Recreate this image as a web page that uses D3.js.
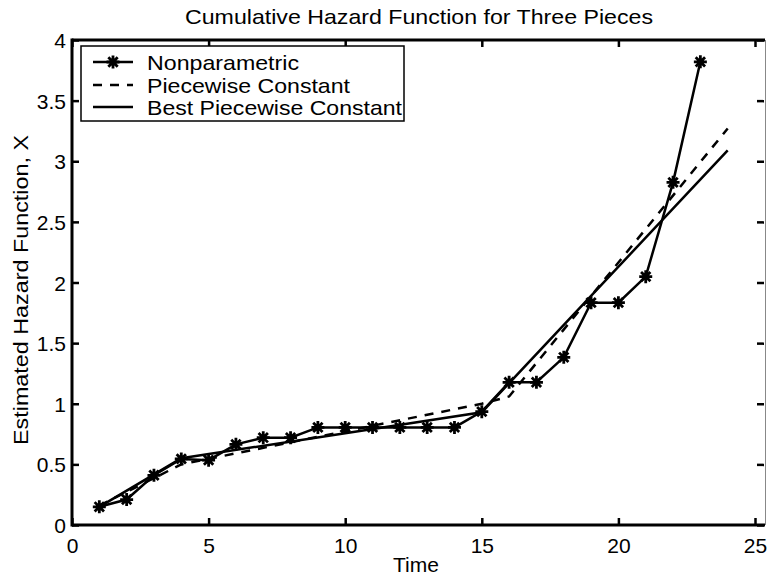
<!DOCTYPE html>
<html>
<head>
<meta charset="utf-8">
<script src="https://cdn.jsdelivr.net/npm/d3@7"></script>
<style>
  body { margin: 0; background: #fff; }
  svg text { font-family: "Liberation Sans", Arial, sans-serif; fill: #000; }
  .tick line { stroke: #000; stroke-width: 2.5; }
</style>
</head>
<body>
<svg id="chart" width="767" height="575"></svg>
<script>
// data
const times = [1, 2, 3, 4, 5, 6, 7, 8, 9, 10, 11, 12, 13, 14, 15, 16, 17, 18, 19, 20, 21, 22, 23];
const nonparametric = [0.15, 0.21, 0.41, 0.545, 0.535, 0.665, 0.72, 0.72, 0.805, 0.805, 0.805, 0.805,
    0.805, 0.805, 0.935, 1.177, 1.177, 1.383, 1.834, 1.834, 2.048, 2.826, 3.82];
const pieceTimes = [1, 4, 15, 16, 24];
const pieceValues = [0.16, 0.5, 1.0, 1.06, 3.27];
const bestTimes = [1, 4, 15, 24];
const bestValues = [0.15, 0.55, 0.93, 3.09];
const xTicks = [0, 5, 10, 15, 20, 25];
const yTicks = [0, 0.5, 1, 1.5, 2, 2.5, 3, 3.5, 4];
const legendLabels = ['Nonparametric', 'Piecewise Constant', 'Best Piecewise Constant'];

const chartProperties = {
    left: 72, right: 755, frameRight: 764, top: 40, bottom: 525
};

function zip(xs, ys) {
    return xs.map((x, i) => ({x: x, y: ys[i]}));
}

function appendStar(g, cx, cy, r) {
    const d = r * 0.72;
    const p = `M${cx - r},${cy}L${cx + r},${cy}M${cx},${cy - r}L${cx},${cy + r}` +
        `M${cx - d},${cy - d}L${cx + d},${cy + d}M${cx - d},${cy + d}L${cx + d},${cy - d}`;
    g.append('circle').attr('cx', cx).attr('cy', cy).attr('r', r * 0.45).attr('fill', '#000');
    g.append('path').attr('d', p).attr('stroke', '#000').attr('stroke-width', 2.8).attr('fill', 'none');
}

// stretch a text to the width it has in the picture
function fitText(t, width) {
    return t.attr('textLength', width).attr('lengthAdjust', 'spacingAndGlyphs');
}

const svg = d3.select('#chart');
const p = chartProperties;

const xScale = d3.scaleLinear().domain([0, 25]).range([p.left, p.right]);
const yScale = d3.scaleLinear().domain([0, 4]).range([p.bottom, p.top]);

// axes (ticks point inward, like matlab)
const xBottom = svg.append('g').attr('transform', `translate(0 ${p.bottom})`)
    .call(d3.axisBottom(xScale).tickValues(xTicks).tickSizeInner(-7).tickSizeOuter(0).tickPadding(9));
const xTop = svg.append('g').attr('transform', `translate(0 ${p.top})`)
    .call(d3.axisTop(xScale).tickValues(xTicks).tickSizeInner(-7).tickSizeOuter(0).tickFormat(''));
const yLeft = svg.append('g').attr('transform', `translate(${p.left} 0)`)
    .call(d3.axisLeft(yScale).tickValues(yTicks).tickSizeInner(-7).tickSizeOuter(0).tickPadding(6)
        .tickFormat(d3.format('')));
const yRight = svg.append('g').attr('transform', `translate(${p.frameRight} 0)`)
    .call(d3.axisRight(yScale).tickValues(yTicks).tickSizeInner(-7).tickSizeOuter(0).tickFormat(''));

[xBottom, xTop, yLeft, yRight].forEach((a) => {
    a.select('.domain').remove();
    a.selectAll('text').style('font-size', '21px').attr('fill', '#000');
});
xBottom.selectAll('text').attr('dy', '0.9em');
yLeft.selectAll('text').attr('dy', '0.36em');

// frame
svg.append('line').attr('x1', p.left).attr('x2', p.frameRight + 1).attr('y1', p.top).attr('y2', p.top)
    .attr('stroke', '#000').attr('stroke-width', 3);
svg.append('line').attr('x1', p.left).attr('x2', p.frameRight + 1).attr('y1', p.bottom).attr('y2', p.bottom)
    .attr('stroke', '#000').attr('stroke-width', 3);
svg.append('line').attr('x1', p.left).attr('x2', p.left).attr('y1', p.top - 1.5).attr('y2', p.bottom + 1.5)
    .attr('stroke', '#000').attr('stroke-width', 3);
svg.append('line').attr('x1', p.frameRight + 1.5).attr('x2', p.frameRight + 1.5).attr('y1', p.top).attr('y2', p.bottom)
    .attr('stroke', '#888').attr('stroke-width', 1);

const line = d3.line().x((d) => xScale(d.x)).y((d) => yScale(d.y));

const plot = svg.append('g');
plot.append('path').attr('d', line(zip(bestTimes, bestValues)))
    .attr('fill', 'none').attr('stroke', '#000').attr('stroke-width', 2.5);
plot.append('path').attr('d', line(zip(pieceTimes, pieceValues)))
    .attr('fill', 'none').attr('stroke', '#000').attr('stroke-width', 2.5)
    .attr('stroke-dasharray', '9,8');
plot.append('path').attr('d', line(zip(times, nonparametric)))
    .attr('fill', 'none').attr('stroke', '#000').attr('stroke-width', 2.5);
zip(times, nonparametric).forEach((d) => {
    appendStar(plot, xScale(d.x), yScale(d.y), 6.5);
});

// titles
fitText(svg.append('text').text('Cumulative Hazard Function for Three Pieces')
    .attr('x', 185).attr('y', 24)
    .style('font-size', '21px'), 468);
svg.append('text').text('Time')
    .attr('x', 416).attr('y', 572)
    .attr('text-anchor', 'middle').style('font-size', '21px');
fitText(svg.append('text').text('Estimated Hazard Function, X')
    .attr('transform', `translate(28 445) rotate(-90)`)
    .style('font-size', '21px'), 310);

// legend
const legend = svg.append('g');
legend.append('rect').attr('x', 81).attr('y', 46).attr('width', 323).attr('height', 75)
    .attr('fill', '#fff').attr('stroke', '#000').attr('stroke-width', 1.5);
const rowY = [62, 85, 107];
const labelWidths = [152, 203, 255];
legendLabels.forEach((label, i) => {
    const l = legend.append('line').attr('x1', 93).attr('x2', 133).attr('y1', rowY[i]).attr('y2', rowY[i])
        .attr('stroke', '#000').attr('stroke-width', 2.5);
    if (i === 1) {
        l.attr('stroke-dasharray', '9,8');
    }
    if (i === 0) {
        appendStar(legend, 113, rowY[i], 6.5);
    }
    fitText(legend.append('text').text(label).attr('x', 147).attr('y', rowY[i] + 8)
        .style('font-size', '21px'), labelWidths[i]);
});
</script>
</body>
</html>
